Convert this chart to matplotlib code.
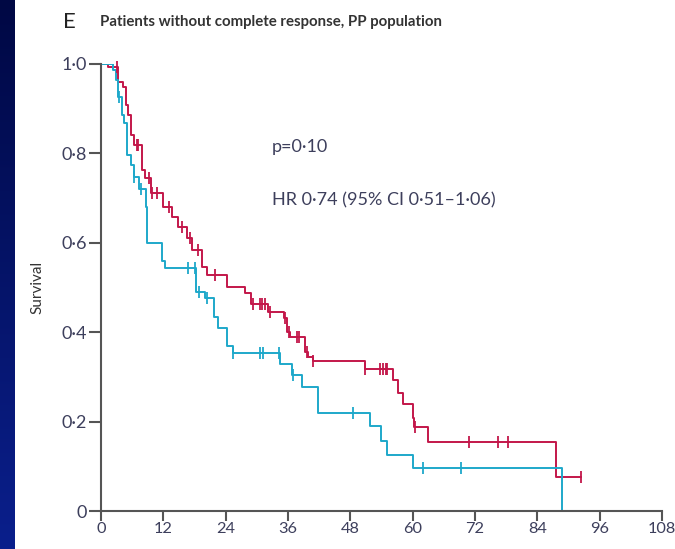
import numpy as np
import matplotlib
matplotlib.use("Agg")
import matplotlib.pyplot as plt
from matplotlib.colors import LinearSegmentedColormap

plt.rcParams['font.family'] = ['Lato', 'DejaVu Sans']

# Kaplan-Meier steps: event times (months) and survival after each event
red_t = [0, 1.3, 3.3, 4.2, 4.8, 5.2, 5.8, 6.3, 7.8, 8.4, 9.6, 12.0, 13.7, 14.8,
         16.5, 17.5, 19.4, 20.5, 24.2, 27.7, 28.8, 32.1, 35.3, 35.8, 36.4, 39.2,
         39.8, 40.8, 50.8, 56.2, 57.1, 58.1, 60.0, 60.3, 63.0, 87.5]
red_s = [1.0, 0.993, 0.96, 0.949, 0.908, 0.886, 0.841, 0.819, 0.763, 0.745, 0.711,
         0.68, 0.658, 0.635, 0.611, 0.584, 0.546, 0.528, 0.501, 0.488, 0.463,
         0.445, 0.432, 0.40, 0.389, 0.356, 0.345, 0.336, 0.318, 0.293, 0.264,
         0.24, 0.208, 0.188, 0.154, 0.076]
red_cens = [3.1, 6.9, 7.1, 9.2, 9.8, 10.8, 13.0, 15.6, 17.1, 18.7, 22.0, 29.3,
            30.6, 31.0, 31.5, 32.5, 35.4, 36.2, 37.7, 38.1, 39.6, 40.8, 50.9,
            53.8, 54.2, 54.8, 55.1, 60.4, 70.8, 76.5, 78.3, 92.5]

blue_t = [0, 2.3, 2.9, 3.3, 4.0, 4.4, 5.0, 5.8, 6.3, 7.4, 8.6, 8.9, 11.7, 12.3,
          18.3, 20.0, 21.8, 22.5, 24.2, 25.4, 34.4, 36.7, 38.6, 41.7, 51.7, 54.0,
          55.0, 60.0, 88.8]
blue_s = [1.0, 0.987, 0.964, 0.926, 0.886, 0.868, 0.796, 0.774, 0.747, 0.72, 0.68,
          0.60, 0.56, 0.544, 0.49, 0.477, 0.434, 0.41, 0.37, 0.353, 0.329, 0.304,
          0.277, 0.22, 0.19, 0.157, 0.125, 0.096, 0.0]
blue_cens = [3.4, 6.4, 7.7, 16.7, 18.0, 18.8, 20.4, 25.5, 30.6, 31.2, 34.2, 37.0,
             48.5, 62.0, 69.4]

RED = "#c3174a"
BLUE = "#1ea8ca"
TEXT = "#3d3f5c"


def surv_at(times, surv, t):
    idx = np.searchsorted(times, t, side="right") - 1
    return np.asarray(surv)[idx]


fig = plt.figure(figsize=(6.75, 5.49), dpi=100)

# dark blue strip on the left edge
strip = fig.add_axes([0, 0, 15 / 675, 1])
grad = np.linspace(0, 1, 256).reshape(-1, 1)
cmap = LinearSegmentedColormap.from_list("strip", ["#000844", "#0a1f8c"])
strip.imshow(grad, aspect="auto", cmap=cmap, extent=[0, 1, 0, 1], origin="upper")
strip.axis("off")

ax = fig.add_axes([101 / 675, 38 / 549, 561 / 675, 447 / 549])

ax.step(red_t + [92.5], red_s + [red_s[-1]], where="post", color=RED, lw=1.4)
ax.step(blue_t, blue_s, where="post", color=BLUE, lw=1.4)
ax.plot(red_cens, surv_at(red_t, red_s, red_cens), ls="none", marker="|",
        ms=8, mew=1.3, color=RED, clip_on=False)
ax.plot(blue_cens, surv_at(blue_t, blue_s, blue_cens), ls="none", marker="|",
        ms=8, mew=1.3, color=BLUE, clip_on=False)

ax.set_xlim(0, 108)
ax.set_ylim(0, 1.0)
ax.set_xticks(np.arange(0, 109, 12))
ax.set_yticks([0, 0.2, 0.4, 0.6, 0.8, 1.0])
ax.set_yticklabels(["0", "0·2", "0·4", "0·6", "0·8", "1·0"])

for side in ["top", "right"]:
    ax.spines[side].set_visible(False)
for side in ["left", "bottom"]:
    ax.spines[side].set_color("#555555")
    ax.spines[side].set_linewidth(1.5)
ax.tick_params(axis="y", length=9, width=1.5, color="#555555", pad=1,
               labelsize=13, labelcolor=TEXT)
ax.tick_params(axis="x", length=7, width=1.5, color="#555555", pad=1,
               labelsize=11.8, labelcolor=TEXT)

ax.set_ylabel("Survival", fontsize=11, color="#333333", labelpad=12)

ax.text(32.9, 0.814, "p=0·10", fontsize=13, color=TEXT, va="center")
ax.text(32.9, 0.696, "HR 0·74 (95% CI 0·51–1·06)", fontsize=13, color=TEXT,
        va="center")

fig.text(63 / 675, 1 - 22 / 549, "E", fontsize=16, color="#222222",
         va="center", ha="left")
fig.text(100 / 675, 1 - 22 / 549, "Patients without complete response, PP population",
         fontsize=10.8, fontweight="bold", color="#333333", va="center", ha="left")

fig.savefig("out.png", dpi=100)
